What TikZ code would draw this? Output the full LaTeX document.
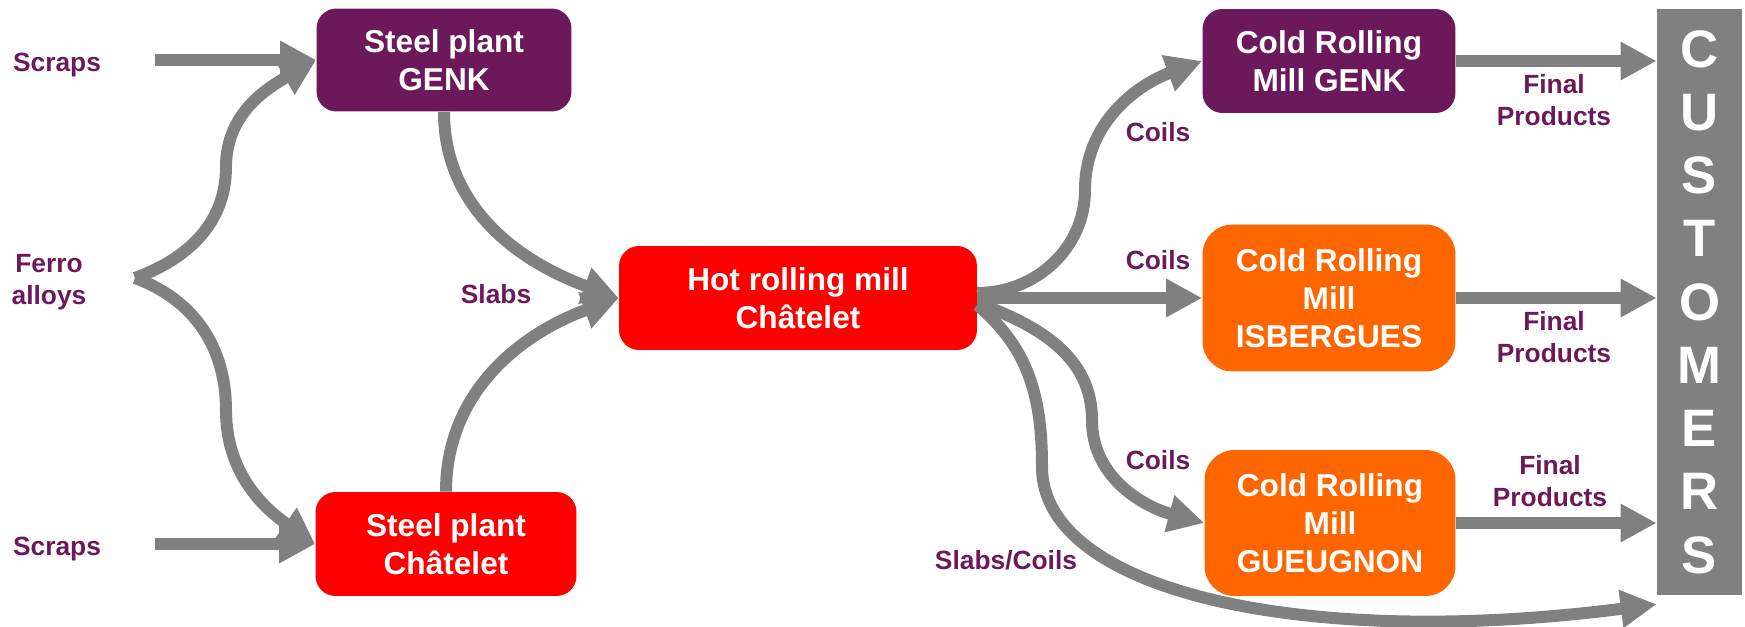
\documentclass[tikz,border=0pt]{standalone}
\usepackage{fontspec}
\setmainfont{Liberation Sans}
\usetikzlibrary{arrows.meta}

\definecolor{amPurple}{RGB}{108,25,92}
\definecolor{amRed}{RGB}{255,0,0}
\definecolor{amOrange}{RGB}{255,102,0}
\definecolor{amGray}{RGB}{128,128,128}

\tikzset{
  plant/.style={rounded corners=0.4cm, inner sep=0pt, align=center, text=white,
    font=\fontsize{18}{21.8}\selectfont\bfseries},
  lbl/.style={inner sep=0pt, align=center, text=amPurple,
    font=\fontsize{15}{18}\selectfont\bfseries},
  flow/.style={draw=amGray, line width=0.24cm, -{Triangle[length=0.72cm,width=0.72cm]}}
}

\begin{document}
\begin{tikzpicture}[x=0.02cm,y=0.02cm]
\useasboundingbox (0,0) rectangle (1745,-626);

% inputs
\node[lbl] (scr1)  at (57,-65)  {Scraps};
\node[lbl] (ferro) at (49,-282) {Ferro\\alloys};
\node[lbl] (scr2)  at (57,-549) {Scraps};
\coordinate (s1) at (155,-60);
\coordinate (s2) at (155,-544);
\coordinate (fa) at (135,-278);

% plants and mills
\node[plant, fill=amPurple, minimum width=5.1cm,  minimum height=2.06cm] (sgenk) at (444,-60)  {Steel plant\\GENK};
\node[plant, fill=amRed,    minimum width=5.22cm, minimum height=2.08cm] (schat) at (446,-544) {Steel plant\\Châtelet};
\node[plant, fill=amRed,    minimum width=7.16cm, minimum height=2.08cm] (hot)   at (798,-298) {Hot rolling mill\\Châtelet};
\node[plant, fill=amPurple, minimum width=5.06cm, minimum height=2.08cm] (cgenk) at (1329,-61) {Cold Rolling\\Mill GENK};
\node[plant, fill=amOrange, minimum width=5.06cm, minimum height=2.94cm, rounded corners=0.6cm] (cisb) at (1329,-298) {Cold Rolling\\Mill\\ISBERGUES};
\node[plant, fill=amOrange, minimum width=5.02cm, minimum height=2.92cm, rounded corners=0.6cm] (cgue) at (1330,-523) {Cold Rolling\\Mill\\GUEUGNON};
\node[fill=amGray, inner sep=0pt, minimum width=1.7cm, minimum height=11.72cm, align=center, text=white,
  font=\fontsize{30}{36}\selectfont\bfseries] (cust) at (1699.5,-302) {C\\U\\S\\T\\O\\M\\E\\R\\S};

% flow labels
\node[lbl] (slabs)  at (496,-294)  {Slabs};
\node[lbl] (coils1) at (1158,-132) {Coils};
\node[lbl] (coils2) at (1158,-260) {Coils};
\node[lbl] (coils3) at (1158,-460) {Coils};
\node[lbl] (slco)   at (1006,-560) {Slabs/Coils};
\node[lbl] (fp1)    at (1554,-100) {Final\\Products};
\node[lbl] (fp2)    at (1554,-337) {Final\\Products};
\node[lbl] (fp3)    at (1550,-481) {Final\\Products};

% straight flows
\draw[flow] (s1) -- (sgenk.west);
\draw[flow] (s2) -- (schat.west);
\draw[flow] (hot.east) -- (cisb.west);
\draw[flow] (cgenk.east) -- (cgenk.east -| cust.west);
\draw[flow] (cisb.east) -- (cisb.east -| cust.west);
\draw[flow] (cgue.east) -- (cgue.east -| cust.west);

% curved flows
\draw[flow] (fa) to[out=20,in=-90] (226,-167) to[out=90,in=210] (sgenk.west);
\draw[flow] (fa) to[out=-20,in=90] (226,-410) to[out=-90,in=145] (schat.west);
\draw[flow] (sgenk.south) to[out=-90,in=160] (hot.west);
\draw[flow] (schat.north) to[out=90,in=200] (hot.west);
\draw[flow] ([yshift=0.1cm]hot.east) to[out=0,in=-90] (1085,-190) to[out=90,in=200] (cgenk.west);
\draw[flow] ([yshift=-0.1cm]hot.east) to[out=-20,in=90] (1092,-420) to[out=-90,in=165] (cgue.west);
\draw[flow] ([yshift=-0.14cm]hot.east) to[out=-40,in=90] (1042,-467)
  .. controls (1042,-590) and (1300,-650) .. ([yshift=-0.18cm]cust.south west);

\end{tikzpicture}
\end{document}
